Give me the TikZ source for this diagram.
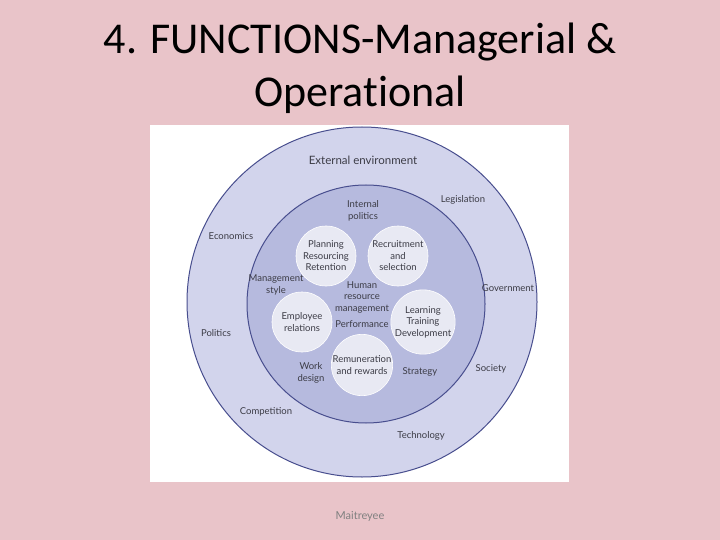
\documentclass[tikz,border=0pt]{standalone}
\usepackage{fontspec}
\setmainfont{Carlito}[Ligatures=NoCommon]
\newfontfamily\diagfont{Lato}
\definecolor{SlidePink}{RGB}{233, 196, 201}
\definecolor{OuterRing}{RGB}{210, 212, 236}
\definecolor{InnerRing}{RGB}{182, 186, 222}
\definecolor{PetalFill}{RGB}{232, 233, 243}
\definecolor{RingEdge}{RGB}{72, 78, 142}
\definecolor{LabelGray}{RGB}{60, 60, 70}
\usepackage{tikz}
\tikzset{
  ring/.style={circle, draw=RingEdge, line width=1pt, fill=#1, inner sep=0pt},
  petal/.style={circle, draw=white, line width=0.6pt, fill=PetalFill,
                minimum size=60pt, inner sep=0pt, align=center,
                font=\diagfont\fontsize{9.5}{11.5}\selectfont, text=LabelGray},
  lbl/.style={align=center, font=\diagfont\fontsize{9.5}{11.5}\selectfont,
              text=LabelGray, inner sep=1pt},
  title/.style={align=center, font=\fontsize{44}{53}\selectfont, text=black},
}
\begin{document}
\begin{tikzpicture}[x=1pt, y=-1pt]
      \fill[SlidePink] (0,0) rectangle (720,540);
      \useasboundingbox (0,0) rectangle (720,540);

      \node[title] (head) at (360,68) {4. FUNCTIONS-Managerial \&\\Operational};

      \fill[white] (150,125) rectangle (569,482);

      \node[ring=OuterRing, minimum size=350pt] (outer) at (362,302) {};
      \node[ring=InnerRing, minimum size=238pt] (inner) at (366,304) {};

      % the five functions
      \node[petal] (plan)  at (326,256) {Planning\\Resourcing\\Retention};
      \node[petal] (recr)  at (398,256) {Recruitment\\and\\selection};
      \node[petal] (empl)  at (302,322) {Employee\\relations};
      \node[petal] (learn) at (423,322) {Learning\\Training\\Development};
      \node[petal] (remun) at (362,365) {Remuneration\\and rewards};

      \node[lbl] (hrm)  at (362,297) {Human\\resource\\management};
      \node[lbl] (perf) at (362,324) {Performance};

      % internal environment
      \node[lbl] (ipol)  at (363,211) {Internal\\politics};
      \node[lbl] (mstyl) at (276,285) {Management\\style};
      \node[lbl] (work)  at (311,373) {Work\\design};
      \node[lbl] (strat) at (420,372) {Strategy};

      % external environment
      \node[lbl, font=\diagfont\fontsize{11.5}{13}\selectfont] (ext) at (363,160) {External environment};
      \node[lbl] (legis) at (463,200) {Legislation};
      \node[lbl] (econ)  at (231,236) {Economics};
      \node[lbl] (govt)  at (508,288) {Government};
      \node[lbl] (polit) at (216,333) {Politics};
      \node[lbl] (soc)   at (491,369) {Society};
      \node[lbl] (comp)  at (266,412) {Competition};
      \node[lbl] (tech)  at (421,436) {Technology};

      \node[font=\diagfont\fontsize{11}{13}\selectfont, text=gray] (foot) at (360,516) {Maitreyee};
    \end{tikzpicture}
\end{document}
